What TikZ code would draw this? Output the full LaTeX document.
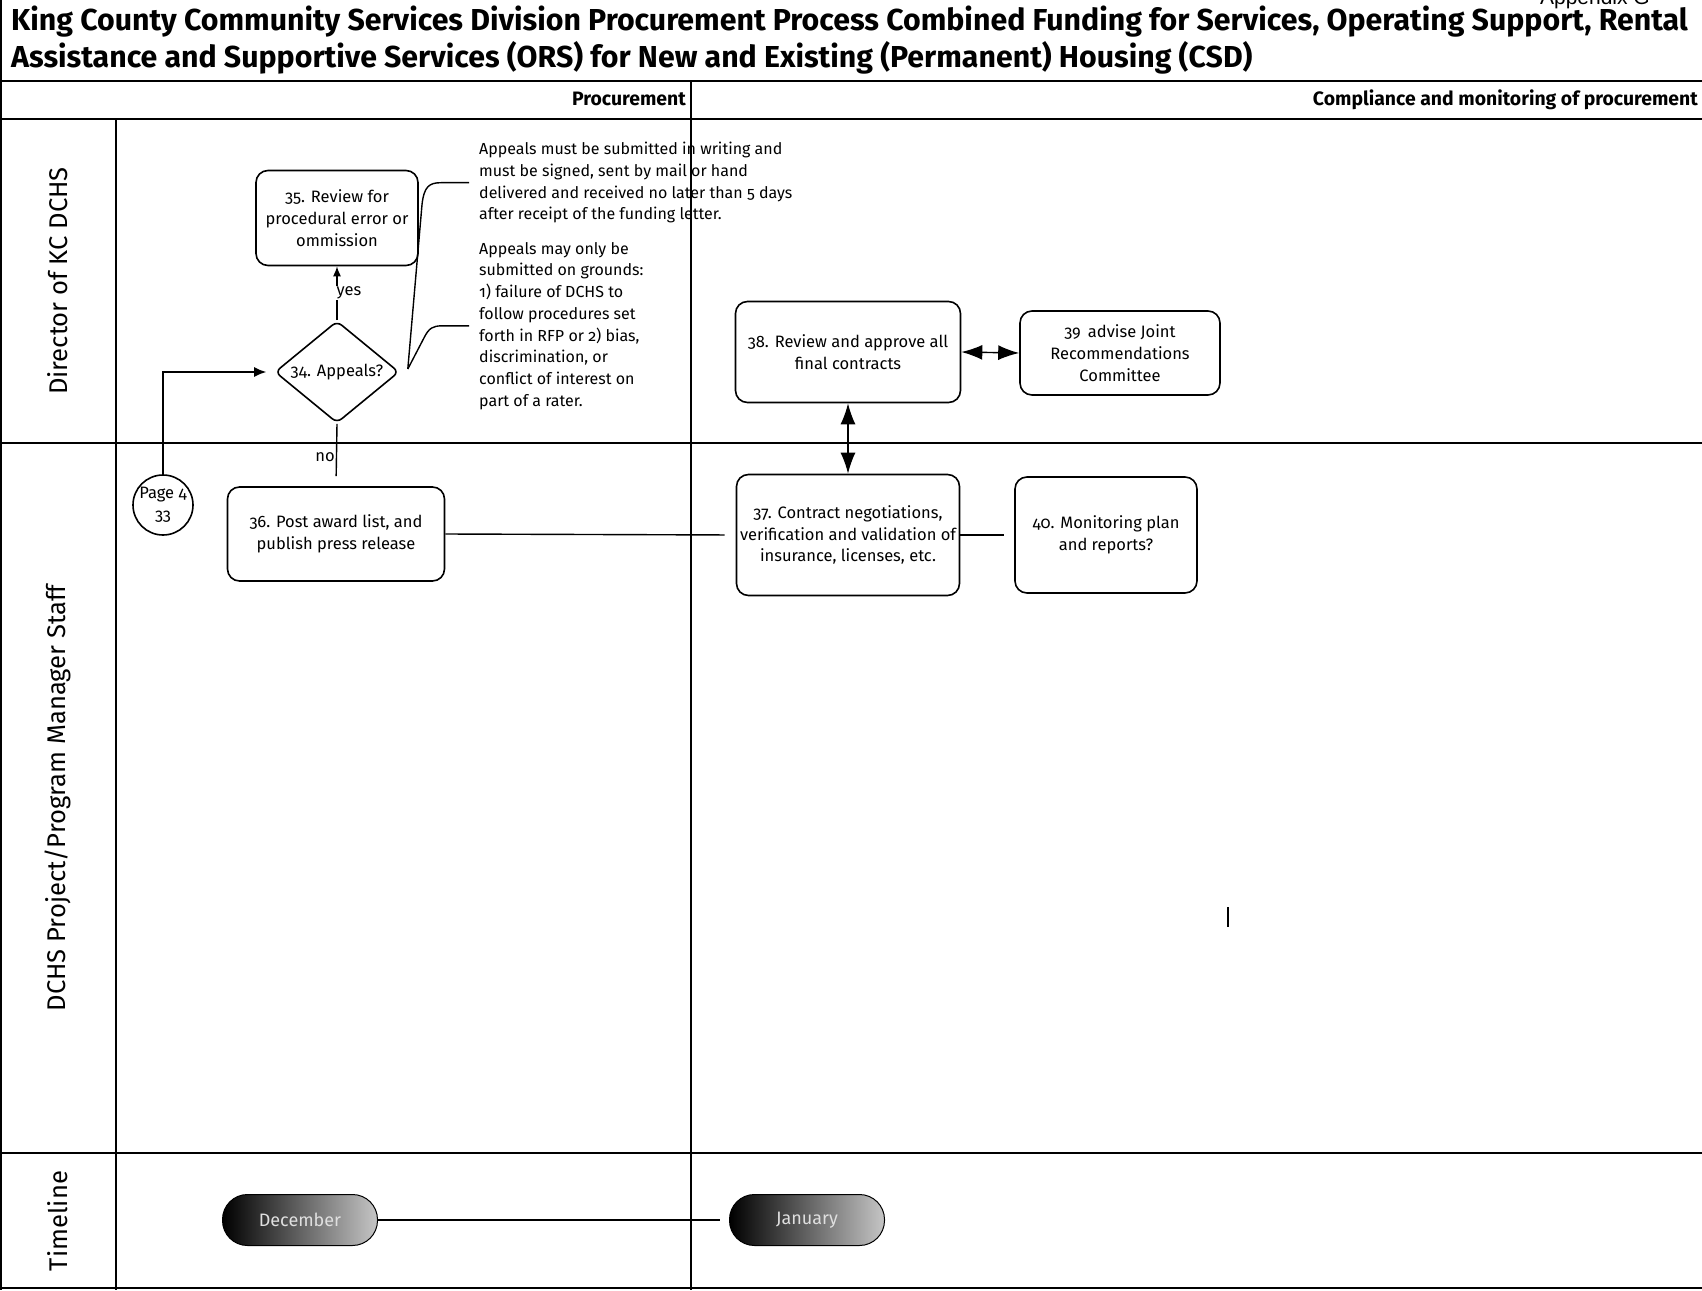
\documentclass[tikz,border=0pt]{standalone}
\usepackage{fontspec}
\setmainfont{Fira Sans}[Numbers=OldStyle]
\newfontfamily\ttlfamily{Fira Sans}[Numbers=OldStyle]
\newfontfamily\arialfamily{Liberation Sans}
\usetikzlibrary{shapes.geometric, arrows.meta, calc}
\newcommand\bxfont{\fontsize{16.5}{21.7}\selectfont}
\newcommand\annfont{\fontsize{16}{21.7}\selectfont}
\newcommand\ttlfont{\ttlfamily\bfseries\fontsize{30.3}{37}\selectfont}
\newcommand\hdrfont{\bfseries\fontsize{19.4}{21}\selectfont}
\newcommand\lanefont{\fontsize{25.6}{28}\selectfont}
\newcommand\pillfont{\fontsize{18}{20}\selectfont}
\tikzset{
  laneline/.style={line width=2.2pt},
  divline/.style={line width=1.6pt},
  procbox/.style={draw, line width=1.6pt, rounded corners=12pt, align=center, inner sep=2pt, font=\bxfont},
  conn/.style={line width=1.4pt},
  darr/.style={{Latex[length=21pt,width=15pt]}-{Latex[length=21pt,width=15pt]}},
  pill/.style={draw, line width=1pt, rounded corners=25pt, minimum width=155pt, minimum height=51pt,
    left color=black, right color=gray!45, text=gray!25, font=\pillfont},
}
\begin{document}
\begin{tikzpicture}[x=1pt, y=-1pt]
\useasboundingbox (0,0) rectangle (1702,1290);
% frame and lanes
\draw[divline] (1,0) -- (1,1290);
\draw[laneline] (0,81) -- (1702,81);
\draw[laneline] (0,119) -- (1702,119);
\draw[laneline] (0,443) -- (1702,443);
\draw[laneline] (0,1153) -- (1702,1153);
\draw[laneline] (0,1288) -- (1702,1288);
\draw[divline] (116,119) -- (116,1290);
\draw[divline] (691,81) -- (691,1290);
% title
\node[anchor=base east, inner sep=0, font=\arialfamily\fontsize{21}{21}\selectfont] (app) at (1650,5) {Appendix G};
\node[anchor=base west, inner sep=0, font=\ttlfont] (t1) at (11,31) {King County Community Services Division Procurement Process Combined Funding for Services, Operating Support, Rental};
\node[anchor=base west, inner sep=0, font=\ttlfont] (t2) at (11,67) {Assistance and Supportive Services (ORS) for New and Existing (Permanent) Housing (CSD)};
% headers
\node[anchor=base east, inner sep=0, font=\hdrfont] (hp) at (686,105) {Procurement};
\node[anchor=base east, inner sep=0, font=\hdrfont] (hc) at (1698,105) {Compliance and monitoring of procurement};
% lane labels
\node[rotate=90, font=\lanefont] (l1) at (58,281) {Director of KC DCHS};
\node[rotate=90, font=\lanefont] (l2) at (58,798) {DCHS Project/Program Manager Staff};
\node[rotate=90, font=\lanefont] (l3) at (58,1221) {Timeline};
% nodes
\node[procbox, minimum width=162pt, minimum height=95pt] (n35) at (337,218) {35. Review for\\procedural error or\\ommission};
\node[draw, diamond, line width=1.6pt, rounded corners=6pt, inner sep=0pt, aspect=1.2,
  minimum width=124pt, minimum height=102pt, font=\bxfont] (n34) at (337,372) {\makebox[0pt]{34. Appeals?}};
\node[procbox, minimum width=217pt, minimum height=94pt] (n36) at (336,534) {36. Post award list, and\\publish press release};
\node[draw, circle, line width=1.6pt, minimum size=60pt, inner sep=0pt] (pg) at (163,505) {};
\node[align=center, font=\bxfont, inner sep=0pt] (pgt) at (pg) {Page 4\\33};
\node[procbox, minimum width=225pt, minimum height=101pt] (n38) at (848,352) {38. Review and approve all\\final contracts};
\node[procbox, minimum width=200pt, minimum height=84pt] (n39) at (1120,353) {39\ \,advise Joint\\Recommendations\\Committee};
\node[procbox, minimum width=223pt, minimum height=121pt] (n37) at (848,535) {37. Contract negotiations,\\verification and validation of\\insurance, licenses, etc.};
\node[procbox, minimum width=182pt, minimum height=116pt] (n40) at (1106,535) {40. Monitoring plan\\and reports?};
% annotations
\node[anchor=north west, inner sep=0pt, align=left, font=\annfont] (ann1) at (479,142) {Appeals must be submitted in writing and\\must be signed, sent by mail or hand\\delivered and received no later than 5 days\\after receipt of the funding letter.};
\node[anchor=north west, inner sep=0pt, align=left, font=\annfont] (ann2) at (479,242) {Appeals may only be\\submitted on grounds:\\1) failure of DCHS to\\follow procedures set\\forth in RFP or 2) bias,\\discrimination, or\\conflict of interest on\\part of a rater.};
\coordinate (bs) at ($(n34.east)+(8,-3)$);
\coordinate (c1) at ($(ann1.west)+(-10,0)$);
\coordinate (c2) at ($(ann2.west)+(-10,0)$);
\draw[conn] (bs) -- ($(c1)+(-47,22)$) .. controls ($(c1)+(-45,4)$) and ($(c1)+(-40,0)$) .. ($(c1)+(-28,0)$) -- (c1);
\draw[conn] (bs) -- ($(c2)+(-45,12)$) .. controls ($(c2)+(-40,2)$) and ($(c2)+(-36,0)$) .. ($(c2)+(-27,0)$) -- (c2);
% timeline
\node[pill] (dec) at (300,1220) {December};
\node[pill] (jan) at (807,1220) {January};
% connectors
\draw[conn, -{Latex[length=12pt,width=10pt]}, shorten >=8pt] (pg.north) |- (n34.west);
\draw[conn, -{Latex[length=10pt,width=8pt]}] (n34.north) -- (n35.south) node[midway, fill=white, inner sep=1pt, xshift=12pt, font=\bxfont] (lyes) {yes};
\draw[conn, shorten >=10pt] (n34.south) -- (n36.north);
\node[anchor=east, inner sep=1pt, font=\bxfont] (lno) at (336,457) {no};
\draw[conn, shorten >=11pt] (n36.east) -- (n37.west);
\draw[conn, shorten >=10pt] (n37.east) -- (n40.west);
\draw[conn, darr] (n38.south) -- (n37.north);
\draw[conn, darr] (n38.east) -- (n39.west);
\draw[conn, shorten >=9pt] (dec.east) -- (jan.west);
% stray mark
\draw[line width=2pt] (1228,907) -- (1228,927);
\end{tikzpicture}
\end{document}
